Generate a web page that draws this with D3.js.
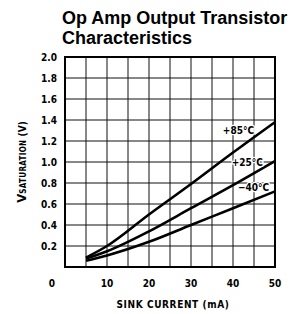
<!DOCTYPE html>
<html>
<head>
<meta charset="utf-8">
<script src="https://cdn.jsdelivr.net/npm/d3@7/dist/d3.min.js"></script>
<style>
  body { margin: 0; background: #fff; }
  svg { display: block; }
  .cond { font-family: "Liberation Sans Narrow", "DejaVu Sans Condensed", "Liberation Sans", sans-serif; font-weight: bold; }
</style>
</head>
<body>
<div id="chart"></div>
<script>
// sink current (mA)
var current = [5, 10, 20, 30, 40, 50];
// saturation voltage (V) per temperature
var vHot = [0.09, 0.20, 0.50, 0.79, 1.09, 1.38];    // +85°C
var vRoom = [0.08, 0.15, 0.34, 0.56, 0.78, 1.01];   // +25°C
var vCold = [0.06, 0.11, 0.24, 0.40, 0.56, 0.72];   // -40°C
var seriesNames = ["+85°C", "+25°C", "\u221240°C"];
var xTicks = [10, 20, 30, 40, 50];
var yTicks = [0.2, 0.4, 0.6, 0.8, 1.0, 1.2, 1.4, 1.6, 1.8, 2.0];

var width = 297, height = 314;
var svg = d3.select("#chart").append("svg")
    .attr("width", width)
    .attr("height", height);

var x = d3.scaleLinear().domain([0, 50]).range([65, 275]);
var y = d3.scaleLinear().domain([0, 2]).range([267, 57]);

// title
var title = svg.append("text")
    .attr("font-family", "Liberation Sans, Arial, sans-serif")
    .attr("font-weight", "bold")
    .attr("font-size", 18);
title.append("tspan").attr("x", 62).attr("y", 24).text("Op Amp Output Transistor");
title.append("tspan").attr("x", 62).attr("y", 44).text("Characteristics");

// grid
var grid = svg.append("g").attr("stroke", "#111").attr("stroke-width", 1);
grid.selectAll(".vg")
    .data(d3.range(5, 50, 5))
    .enter().append("line")
    .attr("x1", function(d) { return x(d); })
    .attr("x2", function(d) { return x(d); })
    .attr("y1", y(0)).attr("y2", y(2));
grid.selectAll(".hg")
    .data(d3.range(1, 10).map(function(i) { return i * 0.2; }))
    .enter().append("line")
    .attr("y1", function(d) { return y(d); })
    .attr("y2", function(d) { return y(d); })
    .attr("x1", x(0)).attr("x2", x(50));

svg.append("rect")
    .attr("x", x(0)).attr("y", y(2))
    .attr("width", x(50) - x(0))
    .attr("height", y(0) - y(2))
    .attr("fill", "none")
    .attr("stroke", "#000")
    .attr("stroke-width", 2);

// curves
var line = d3.line()
    .x(function(d) { return x(d[0]); })
    .y(function(d) { return y(d[1]); })
    .curve(d3.curveMonotoneX);

[vHot, vRoom, vCold].forEach(function(vals) {
    svg.append("path")
        .datum(current.map(function(c, i) { return [c, vals[i]]; }))
        .attr("d", line)
        .attr("fill", "none")
        .attr("stroke", "#000")
        .attr("stroke-width", 2.6);
});

// curve labels
var labelPos = [[41.3, 1.30], [43.4, 1.00], [44.9, 0.76]];
svg.selectAll(".clabel")
    .data(seriesNames)
    .enter().append("text")
    .attr("class", "cond")
    .attr("x", function(d, i) { return x(labelPos[i][0]); })
    .attr("y", function(d, i) { return y(labelPos[i][1]) + 3.5; })
    .attr("text-anchor", "middle")
    .attr("font-size", 10)
    .attr("stroke", "#fff")
    .attr("stroke-width", 2.5)
    .attr("paint-order", "stroke")
    .attr("fill", "#000")
    .text(function(d) { return d; });

// axis tick labels
svg.selectAll(".xt")
    .data(xTicks)
    .enter().append("text")
    .attr("class", "cond")
    .attr("x", function(d) { return x(d); })
    .attr("y", 287)
    .attr("text-anchor", "middle")
    .attr("font-size", 10)
    .text(function(d) { return d; });
svg.append("text")
    .attr("class", "cond")
    .attr("x", 52).attr("y", 287)
    .attr("text-anchor", "middle")
    .attr("font-size", 10)
    .text("0");

svg.selectAll(".yt")
    .data(yTicks)
    .enter().append("text")
    .attr("class", "cond")
    .attr("x", 57)
    .attr("y", function(d) { return y(d) + 3.5; })
    .attr("text-anchor", "end")
    .attr("font-size", 10)
    .text(function(d) { return d3.format(".1f")(d); });

// axis titles
svg.append("text")
    .attr("class", "cond")
    .attr("x", 173).attr("y", 308)
    .attr("text-anchor", "middle")
    .attr("font-size", 10)
    .attr("letter-spacing", 0.6)
    .text("SINK CURRENT (mA)");

var yl = svg.append("text")
    .attr("class", "cond")
    .attr("transform", "translate(26,162) rotate(-90)")
    .attr("text-anchor", "middle")
    .attr("font-size", 10);
yl.append("tspan").attr("font-size", 13).text("V");
yl.append("tspan").attr("font-size", 8).attr("letter-spacing", 0.3).text("SATURATION");
yl.append("tspan").text(" (V)");
</script>
</body>
</html>
